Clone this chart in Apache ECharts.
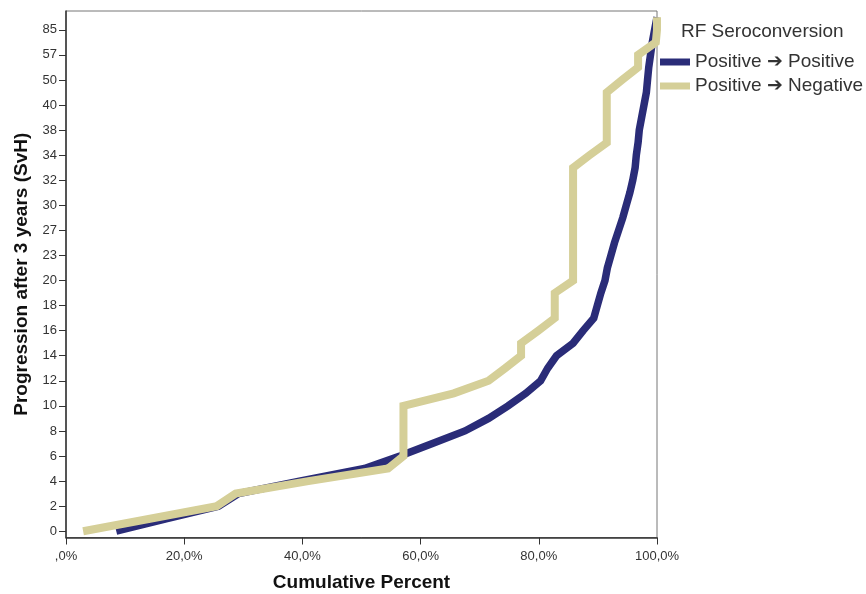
<!DOCTYPE html>
<html>
<head>
<meta charset="utf-8">
<script src="https://cdn.jsdelivr.net/npm/echarts@6/dist/echarts.min.js"></script>
<style>html,body{margin:0;padding:0;background:#fff}#c{width:866px;height:594px}</style>
</head>
<body>
<div id="c"></div>
<script>
// Y categories (progression values); only every other one is labelled
var yCategories = ['0','1','2','3','4','5','6','7','8','9','10','11','12','13','14','15','16','17','18','19','20',
  '21','23','25','27','28','30','31','32','33','34','36','38','39','40','45','50','55','57','60','85','90'];
// Cumulative percent for each category
var posPos = [8.5,17.1,25.8,29.2,39.5,50.5,56.5,62.0,67.5,71.5,74.8,77.8,80.3,81.5,83.0,85.8,87.5,89.3,89.9,90.5,91.2,
  91.6,92.2,92.8,93.5,94.2,94.8,95.4,95.9,96.3,96.5,96.8,97.0,97.4,97.8,98.2,98.4,98.6,98.9,99.2,99.6,100];
var posNeg = [2.9,14.2,25.5,28.7,41.0,54.5,57.1,57.1,57.1,57.1,57.1,65.6,71.5,74.3,77.0,77.0,79.9,82.7,82.7,82.7,85.8,
  85.8,85.8,85.8,85.8,85.8,85.8,85.8,85.8,85.8,88.6,91.5,91.5,91.5,91.5,91.5,94.1,96.8,96.8,99.8,100,100];
var seriesNames = ['Positive \u2794 Positive', 'Positive \u2794 Negative'];
var legendTitle = 'RF Seroconversion';
var xTitle = 'Cumulative Percent';
var yTitle = 'Progression after 3 years (SvH)';

var FONT = "'Liberation Sans', Arial, sans-serif";
var chart = echarts.init(document.getElementById('c'), null, {renderer: 'canvas'});
function toData(arr) { return arr.map(function (v, i) { return [v, i]; }); }
chart.setOption({
  animation: false,
  backgroundColor: '#fff',
  textStyle: {fontFamily: FONT},
  grid: {left: 66, right: 209, top: 11, bottom: 56.5, outerBoundsMode: 'none', containLabel: false,
    show: true, borderColor: '#777', borderWidth: 1, backgroundColor: 'transparent'},
  title: {
    text: legendTitle, left: 676, top: 17,
    textStyle: {fontFamily: FONT, fontSize: 19, fontWeight: 'normal', color: '#333'}
  },
  legend: {
    left: 655, top: 47, orient: 'vertical', icon: 'rect', itemWidth: 30, itemHeight: 7, itemGap: 4,
    textStyle: {fontFamily: FONT, fontSize: 19, color: '#333', lineHeight: 20},
    data: seriesNames
  },
  xAxis: {
    type: 'value', min: 0, max: 100, interval: 20,
    name: xTitle, nameLocation: 'middle', nameGap: 36,
    nameTextStyle: {fontFamily: FONT, fontSize: 19, fontWeight: 'bold', color: '#111'},
    axisLine: {show: true, lineStyle: {color: '#333', width: 1.5}},
    axisTick: {show: true, length: 7, lineStyle: {color: '#333'}},
    splitLine: {show: false},
    axisLabel: {
      margin: 12, fontSize: 13, color: '#333', fontFamily: FONT,
      formatter: function (v) { return v === 0 ? ',0%' : v.toFixed(1).replace('.', ',') + '%'; }
    }
  },
  yAxis: {
    type: 'category', data: yCategories, boundaryGap: true,
    name: yTitle, nameLocation: 'middle', nameGap: 35,
    nameTextStyle: {fontFamily: FONT, fontSize: 19, fontWeight: 'bold', color: '#111'},
    axisLine: {show: true, lineStyle: {color: '#333', width: 1.5}},
    axisTick: {show: true, length: 7, interval: 1, alignWithLabel: true, lineStyle: {color: '#333'}},
    axisLabel: {interval: 1, margin: 9, fontSize: 13, color: '#333', fontFamily: FONT},
    splitLine: {show: false}
  },
  series: [
    {name: seriesNames[0], type: 'line', data: toData(posPos), showSymbol: false, symbol: 'none',
     color: '#2A2C78', lineStyle: {width: 7.5, color: '#2A2C78', join: 'miter'}, z: 2},
    {name: seriesNames[1], type: 'line', data: toData(posNeg), showSymbol: false, symbol: 'none',
     color: '#D5CF98', lineStyle: {width: 8, color: '#D5CF98', join: 'miter'}, z: 3}
  ]
});
</script>
</body>
</html>
